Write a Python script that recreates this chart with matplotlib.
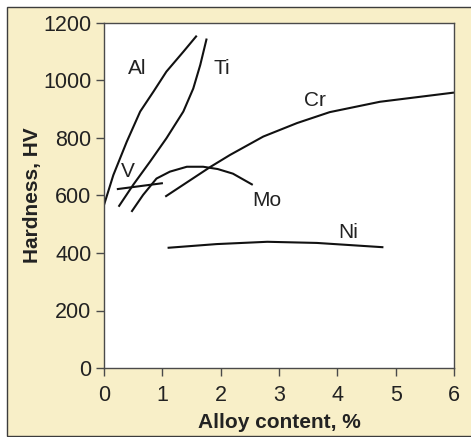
import matplotlib
matplotlib.use("Agg")
import matplotlib.pyplot as plt
from matplotlib import font_manager
from matplotlib.patches import Rectangle

# Pick a narrow sans face if there is one
names = {f.name for f in font_manager.fontManager.ttflist}
family = "Liberation Sans Narrow" if "Liberation Sans Narrow" in names else "Liberation Sans"
plt.rcParams["font.family"] = [family, "DejaVu Sans"]

# Hardness (HV) against alloy content (%) for each element
al_x = [0.0, 0.16, 0.39, 0.62, 0.85, 1.07, 1.36, 1.59]
al_y = [567, 671, 787, 892, 962, 1031, 1100, 1156]

ti_x = [0.25, 0.50, 0.79, 1.07, 1.36, 1.53, 1.65, 1.76]
ti_y = [561, 637, 718, 799, 892, 972, 1054, 1146]

v_x = [0.22, 1.01]
v_y = [622, 643]

mo_x = [0.47, 0.67, 0.90, 1.13, 1.42, 1.70, 1.95, 2.21, 2.55]
mo_y = [543, 602, 659, 683, 700, 700, 692, 676, 637]

cr_x = [1.05, 1.82, 2.16, 2.73, 3.31, 3.87, 4.73, 6.0]
cr_y = [596, 699, 741, 805, 852, 890, 926, 958]

ni_x = [1.09, 1.93, 2.80, 3.65, 4.79]
ni_y = [418, 431, 439, 435, 420]

labels = ["Al", "Ti", "V", "Mo", "Cr", "Ni"]
label_x = [0.57, 2.02, 0.41, 2.79, 3.62, 4.18]
label_y = [1040, 1040, 682, 584, 932, 470]

xticks = [0, 1, 2, 3, 4, 5, 6]
yticks = [0, 200, 400, 600, 800, 1000, 1200]

W, H = 471, 437
fig = plt.figure(figsize=(W / 100, H / 100), dpi=100, facecolor="white")
fig.patches.append(Rectangle((7 / W, 1 / H), 1.0, 429 / H, transform=fig.transFigure,
                             facecolor="#f8efc8", edgecolor="#3c3c3c", linewidth=1.0,
                             zorder=-10))

ax = fig.add_axes([104 / W, 69 / H, 350 / W, 345 / H])
ax.set_facecolor("white")

for xs, ys in [(al_x, al_y), (ti_x, ti_y), (v_x, v_y), (mo_x, mo_y), (cr_x, cr_y), (ni_x, ni_y)]:
    ax.plot(xs, ys, color="#111111", lw=1.5, solid_capstyle="butt")

for t, x, y in zip(labels, label_x, label_y):
    ax.text(x, y, t, fontsize=15, ha="center", va="center", color="#222222")

ax.set_xlim(0, 6)
ax.set_ylim(0, 1200)
ax.set_xticks(xticks)
ax.set_yticks(yticks)
ax.tick_params(direction="out", length=6, width=1, color="#4a4a4a",
               labelsize=15.5, labelcolor="#222222")
ax.tick_params(axis="x", pad=6)
ax.tick_params(axis="y", pad=3)
for s in ax.spines.values():
    s.set_color("#4a4a4a")
    s.set_linewidth(1)

ax.set_xlabel("Alloy content, %", fontsize=15, fontweight="bold", color="#222222", labelpad=5)
ax.set_ylabel("Hardness, HV", fontsize=15, fontweight="bold", color="#222222", labelpad=1)

fig.savefig("out.png", dpi=100, facecolor="white")
